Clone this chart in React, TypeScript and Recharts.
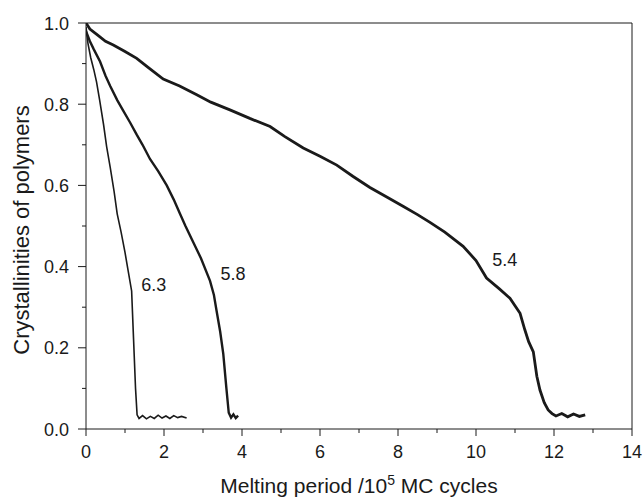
import React from 'react';
import { LineChart, Line, XAxis, YAxis, ReferenceLine, ReferenceDot, Label } from 'recharts';

// T = 6.3
const run63X = [0, 0.05, 0.12, 0.2, 0.27, 0.35, 0.45, 0.53, 0.62, 0.72, 0.8, 0.9, 1.0, 1.08, 1.17, 1.22, 1.27, 1.31, 1.36, 1.45, 1.55, 1.65, 1.75, 1.85, 1.95, 2.05, 2.15, 2.25, 2.35, 2.45, 2.58];
const run63Y = [0.99, 0.95, 0.915, 0.885, 0.855, 0.81, 0.75, 0.695, 0.645, 0.585, 0.53, 0.485, 0.435, 0.39, 0.34, 0.22, 0.1, 0.035, 0.026, 0.033, 0.025, 0.031, 0.026, 0.034, 0.027, 0.032, 0.026, 0.033, 0.028, 0.031, 0.027];

// T = 5.8
const run58X = [0, 0.1, 0.2, 0.36, 0.5, 0.62, 0.8, 0.95, 1.13, 1.3, 1.45, 1.64, 1.85, 2.07, 2.25, 2.41, 2.55, 2.75, 2.95, 3.18, 3.28, 3.35, 3.44, 3.52, 3.6, 3.66, 3.72, 3.78, 3.84, 3.9];
const run58Y = [0.98, 0.955, 0.935, 0.905, 0.87, 0.845, 0.81, 0.785, 0.755, 0.725, 0.7, 0.665, 0.635, 0.6, 0.565, 0.53, 0.5, 0.46, 0.42, 0.365, 0.33, 0.29, 0.24, 0.185, 0.1, 0.04, 0.028, 0.036, 0.027, 0.033];

// T = 5.4
const run54X = [0, 0.1, 0.3, 0.5, 0.7, 1.0, 1.3, 1.6, 1.98, 2.4, 2.84, 3.2, 3.69, 4.2, 4.72, 5.1, 5.57, 6.0, 6.43, 6.85, 7.28, 7.7, 8.14, 8.5, 8.82, 9.2, 9.67, 10.0, 10.27, 10.6, 10.87, 11.13, 11.25, 11.35, 11.47, 11.56, 11.64, 11.75, 11.85, 11.95, 12.05, 12.2, 12.35, 12.5, 12.65, 12.8];
const run54Y = [1.0, 0.985, 0.97, 0.955, 0.946, 0.93, 0.913, 0.89, 0.862, 0.845, 0.823, 0.805, 0.786, 0.765, 0.745, 0.72, 0.692, 0.672, 0.65, 0.622, 0.595, 0.572, 0.548, 0.528, 0.509, 0.485, 0.45, 0.415, 0.372, 0.345, 0.322, 0.285, 0.245, 0.215, 0.19, 0.13, 0.096, 0.065, 0.047, 0.038, 0.032, 0.038, 0.03, 0.037, 0.031, 0.035];

const X_TICKS = [0, 1, 2, 3, 4, 5, 6, 7, 8, 9, 10, 11, 12, 13, 14];
const Y_TICKS = [0, 0.1, 0.2, 0.3, 0.4, 0.5, 0.6, 0.7, 0.8, 0.9, 1.0];

const CURVE_LABELS = [
  { x: 1.74, y: 0.355, text: '6.3' },
  { x: 3.77, y: 0.383, text: '5.8' },
  { x: 10.74, y: 0.416, text: '5.4' },
];

const toPoints = (xs: number[], ys: number[]) => xs.map((x, i) => ({ x, y: ys[i] }));

const FONT = '"Liberation Sans", Arial, Helvetica, sans-serif';
const INK = '#1a1a1a';
const TICK_FONT = 18;
const TITLE_FONT = 21;

const XTick = (props: any) => {
  const { x, y, payload } = props;
  const major = payload.value % 2 === 0;
  return (
    <g>
      <line x1={x} y1={y} x2={x} y2={y + (major ? 7 : 4)} stroke={INK} strokeWidth={1} />
      {major && (
        <text x={x} y={y + 29} textAnchor="middle" fontSize={TICK_FONT} fontFamily={FONT} fill={INK}>
          {payload.value}
        </text>
      )}
    </g>
  );
};

const YTick = (props: any) => {
  const { x, y, payload } = props;
  const major = Math.round(payload.value * 10) % 2 === 0;
  return (
    <g>
      <line x1={x - (major ? 8 : 4)} y1={y} x2={x} y2={y} stroke={INK} strokeWidth={1} />
      {major && (
        <text x={x - 17} y={y + 6.5} textAnchor="end" fontSize={TICK_FONT} fontFamily={FONT} fill={INK}>
          {payload.value.toFixed(1)}
        </text>
      )}
    </g>
  );
};

export default function App() {
  return (
    <div style={{ position: 'absolute', left: 0, top: 0, width: 644, height: 497, background: '#fff' }}>
      <LineChart width={644} height={497} margin={{ top: 23, right: 12, bottom: 0, left: 0 }}>
        <XAxis
          dataKey="x"
          type="number"
          domain={[0, 14]}
          ticks={X_TICKS}
          interval={0}
          tickSize={0}
          tickMargin={0}
          tick={<XTick />}
          axisLine={{ stroke: INK }}
          height={68}
          allowDataOverflow
        >
          <Label
            content={(p: any) => {
              const vb = p.viewBox;
              return (
                <text x={vb.x + vb.width / 2} y={vb.y + 64} textAnchor="middle" fontSize={TITLE_FONT} fontFamily={FONT} fill={INK}>
                  Melting period /10
                  <tspan fontSize={14} dy={-8}>5</tspan>
                  <tspan dy={8}> MC cycles</tspan>
                </text>
              );
            }}
          />
        </XAxis>
        <YAxis
          dataKey="y"
          type="number"
          domain={[0, 1]}
          ticks={Y_TICKS}
          interval={0}
          tickSize={0}
          tickMargin={0}
          tick={<YTick />}
          axisLine={{ stroke: INK }}
          width={86}
          allowDataOverflow
        >
          <Label
            content={(p: any) => {
              const vb = p.viewBox;
              const cx = vb.x + 21;
              const cy = vb.y + vb.height / 2 + 4;
              return (
                <text x={cx} y={cy} transform={`rotate(-90 ${cx} ${cy})`} textAnchor="middle" dominantBaseline="central" fontSize={22} fontFamily={FONT} fill={INK}>
                  Crystallinities of polymers
                </text>
              );
            }}
          />
        </YAxis>
        <ReferenceLine y={1} stroke={INK} strokeWidth={1} />
        <ReferenceLine x={14} stroke={INK} strokeWidth={1} />
        <Line data={toPoints(run63X, run63Y)} dataKey="y" stroke={INK} strokeWidth={1.6} dot={false} isAnimationActive={false} />
        <Line data={toPoints(run58X, run58Y)} dataKey="y" stroke={INK} strokeWidth={2.4} dot={false} isAnimationActive={false} />
        <Line data={toPoints(run54X, run54Y)} dataKey="y" stroke={INK} strokeWidth={2.8} dot={false} isAnimationActive={false} />
        {CURVE_LABELS.map((c) => (
          <ReferenceDot
            key={c.text}
            x={c.x}
            y={c.y}
            r={1}
            fill="none"
            stroke="none"
            label={{ value: c.text, position: 'center', fontSize: TICK_FONT, fontFamily: FONT, fill: INK }}
          />
        ))}
      </LineChart>
    </div>
  );
}
